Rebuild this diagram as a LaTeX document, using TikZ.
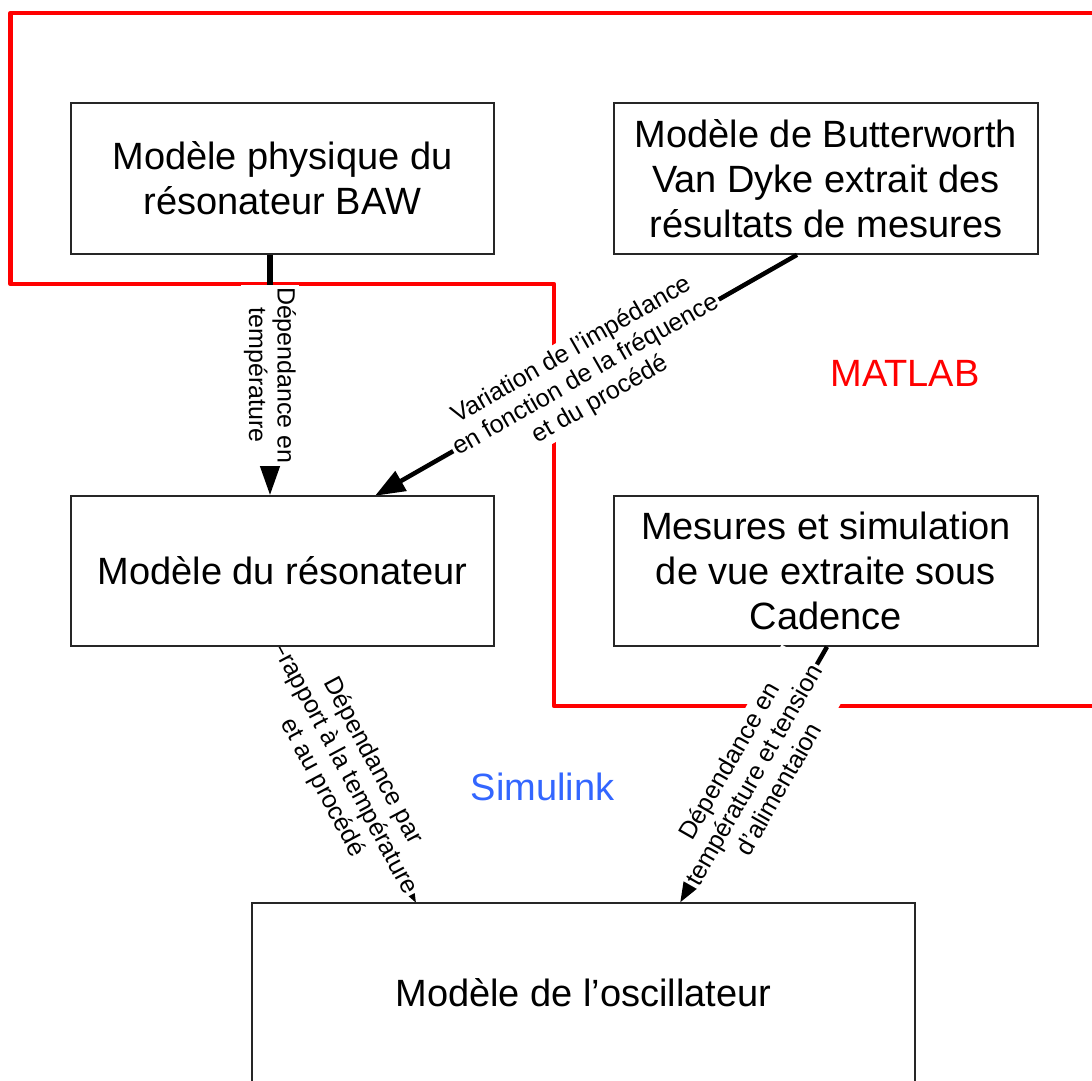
\documentclass[tikz,border=0pt]{standalone}
\usepackage{fontspec}
\setmainfont{Liberation Sans}
\usetikzlibrary{arrows.meta}
\definecolor{matred}{RGB}{255,0,0}
\definecolor{simblue}{RGB}{51,102,255}
\begin{document}
\begin{tikzpicture}[x=1pt,y=-1pt,
  boxline/.style={draw=black!85, line width=1.6pt},
  blockfill/.style={fill=white, align=center,
    font=\fontsize{38}{45}\selectfont, inner sep=0pt},
  blockbox/.style={blockfill, boxline},
  lbl/.style={fill=white, align=center, font=\fontsize{25}{28.5}\selectfont,
    inner xsep=2pt, inner ysep=2.5pt},
  envlabel/.style={font=\fontsize{38}{45}\selectfont, inner sep=0pt},
]
\clip (0,0) rectangle (1092,1080);
\fill[white] (0,0) rectangle (1092,1080);

% MATLAB boundary
\draw[matred, line width=4.5pt, line join=round]
  (1100,13) -- (10.5,13) -- (10.5,284) -- (554,284) -- (554,706) -- (1100,706);

% blocks
\node[blockbox, minimum width=423pt, minimum height=151pt] (phys) at (282.5,178.5)
  {Modèle physique du\\résonateur BAW};
\node[blockbox, minimum width=424pt, minimum height=151pt] (bvd) at (826,178.5)
  {Modèle de Butterworth\\Van Dyke extrait des\\résultats de mesures};
\node[blockfill, minimum width=423pt, minimum height=150pt] (reso) at (282.5,571)
  {Modèle du résonateur};
\node[blockbox, minimum width=424pt, minimum height=150pt] (cad) at (826,571)
  {Mesures et simulation\\de vue extraite sous\\Cadence};
\node[blockfill, minimum width=663pt, minimum height=180pt] (osc) at (583.5,993)
  {Modèle de l’oscillateur};

% environment labels
\node[envlabel, text=matred] (matlab) at (905,373) {MATLAB};
\node[envlabel, text=simblue] (simulink) at (542.5,787) {Simulink};

% connectors
\draw[line width=6pt, -{Triangle[length=32pt,width=20pt]}]
  ([xshift=-12.5pt]phys.south) -- ([xshift=-12.5pt]reso.north)
  node[lbl, midway, rotate=-90] {Dépendance en\\température};

\draw[line width=4.5pt, -{Triangle[length=30pt,width=22pt]}]
  ([xshift=-29pt]bvd.south) -- ([xshift=92.5pt]reso.north)
  node[lbl, midway, rotate=29.8] {Variation de l’impédance\\en fonction de la fréquence\\et du procédé};

\draw[line width=1.5pt, -{Triangle[length=10pt,width=7pt]}]
  ([xshift=-3.5pt]reso.south) -- ([xshift=-167.5pt]osc.north)
  node[lbl, midway, rotate=-61.9] {Dépendance par\\rapport à la température\\et au procédé};

\draw[line width=4.5pt, -{Triangle[length=22pt,width=15pt]}]
  ([xshift=1pt]cad.south) -- ([xshift=96.5pt]osc.north)
  node[lbl, midway, rotate=60.2] {Dépendance en\\température et tension\\d’alimentaion};

% borders of these two blocks kept above the label backgrounds
\draw[boxline] (reso.south west) rectangle (reso.north east);
\draw[boxline] (osc.south west) rectangle (osc.north east);
\end{tikzpicture}
\end{document}
